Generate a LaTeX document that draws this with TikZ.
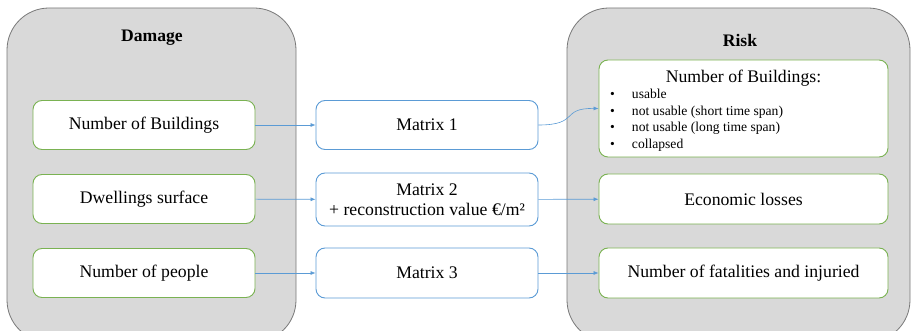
\documentclass[tikz,border=0pt]{standalone}
\usepackage{fontspec}
\setmainfont{Liberation Serif}
\usetikzlibrary{arrows.meta}
\definecolor{grayfill}{RGB}{217,217,217}
\definecolor{grayline}{RGB}{120,120,120}
\definecolor{greenline}{RGB}{122,178,82}
\definecolor{blueline}{RGB}{91,155,213}
\tikzset{
  panel/.style={draw=grayline, fill=grayfill, line width=0.8pt, rounded corners=42pt},
  boxfont/.style={font=\fontsize{17.7}{20}\selectfont},
  greenbox/.style={draw=greenline, fill=white, line width=0.9pt, rounded corners=9pt,
    minimum width=222pt, minimum height=49pt, inner sep=0pt, align=center, boxfont},
  bluebox/.style={draw=blueline, fill=white, line width=0.9pt, rounded corners=9pt,
    minimum width=222pt, minimum height=49pt, inner sep=0pt, align=center, boxfont},
  conn/.style={draw=blueline, line width=0.6pt, -{Latex[length=5pt,width=4pt]}},
  title/.style={font=\bfseries\fontsize{17.6}{20}\selectfont}
}
\begin{document}
\begin{tikzpicture}[x=1pt,y=-1pt]
\useasboundingbox (0,0) rectangle (911,331);
\path[panel] (7,8) rectangle (296,342);
\path[panel] (567,8) rectangle (910,342);
\node[title] (dtitle) at (152,38) {Damage};
\node[title] (rtitle) at (740,40) {Risk};
% left boxes
\node[greenbox] (d1) at (144,125) {Number of Buildings};
\node[greenbox] (d2) at (144,199) {Dwellings surface};
\node[greenbox] (d3) at (144,273) {Number of people};
% middle boxes
\node[bluebox] (m1) at (427,125) {Matrix 1};
\node[bluebox, minimum height=53pt] (m2) at (427,199.5) {Matrix 2\\+ reconstruction value €/m²};
\node[bluebox, minimum height=50pt] (m3) at (427,273) {Matrix 3};
% right boxes
\node[greenbox, minimum width=289pt, minimum height=97pt] (r1) at (743.5,108.5) {};
\node[boxfont] (r1t) at (743.5,78) {Number of Buildings:};
\node[anchor=west, font=\fontsize{13.6}{16.5}\selectfont, align=left, inner sep=0pt] (r1l) at (610,120)
  {\textbullet\hspace{17pt}usable\\\textbullet\hspace{17pt}not usable (short time span)\\\textbullet\hspace{17pt}not usable (long time span)\\\textbullet\hspace{17pt}collapsed};
\node[greenbox, minimum width=289pt, minimum height=50pt] (r2) at (743.5,199) {Economic losses};
\node[greenbox, minimum width=289pt, minimum height=50pt] (r3) at (743.5,273) {Number of fatalities and injuried};
% connectors
\draw[conn] (d1) -- (m1);
\draw[conn] (d2) -- (m2);
\draw[conn] (d3) -- (m3);
\draw[conn] (m1.east) .. controls (580,125) and (560,108) .. (r1.west);
\draw[conn] (m2) -- (r2);
\draw[conn] (m3) -- (r3);
\end{tikzpicture}
\end{document}
